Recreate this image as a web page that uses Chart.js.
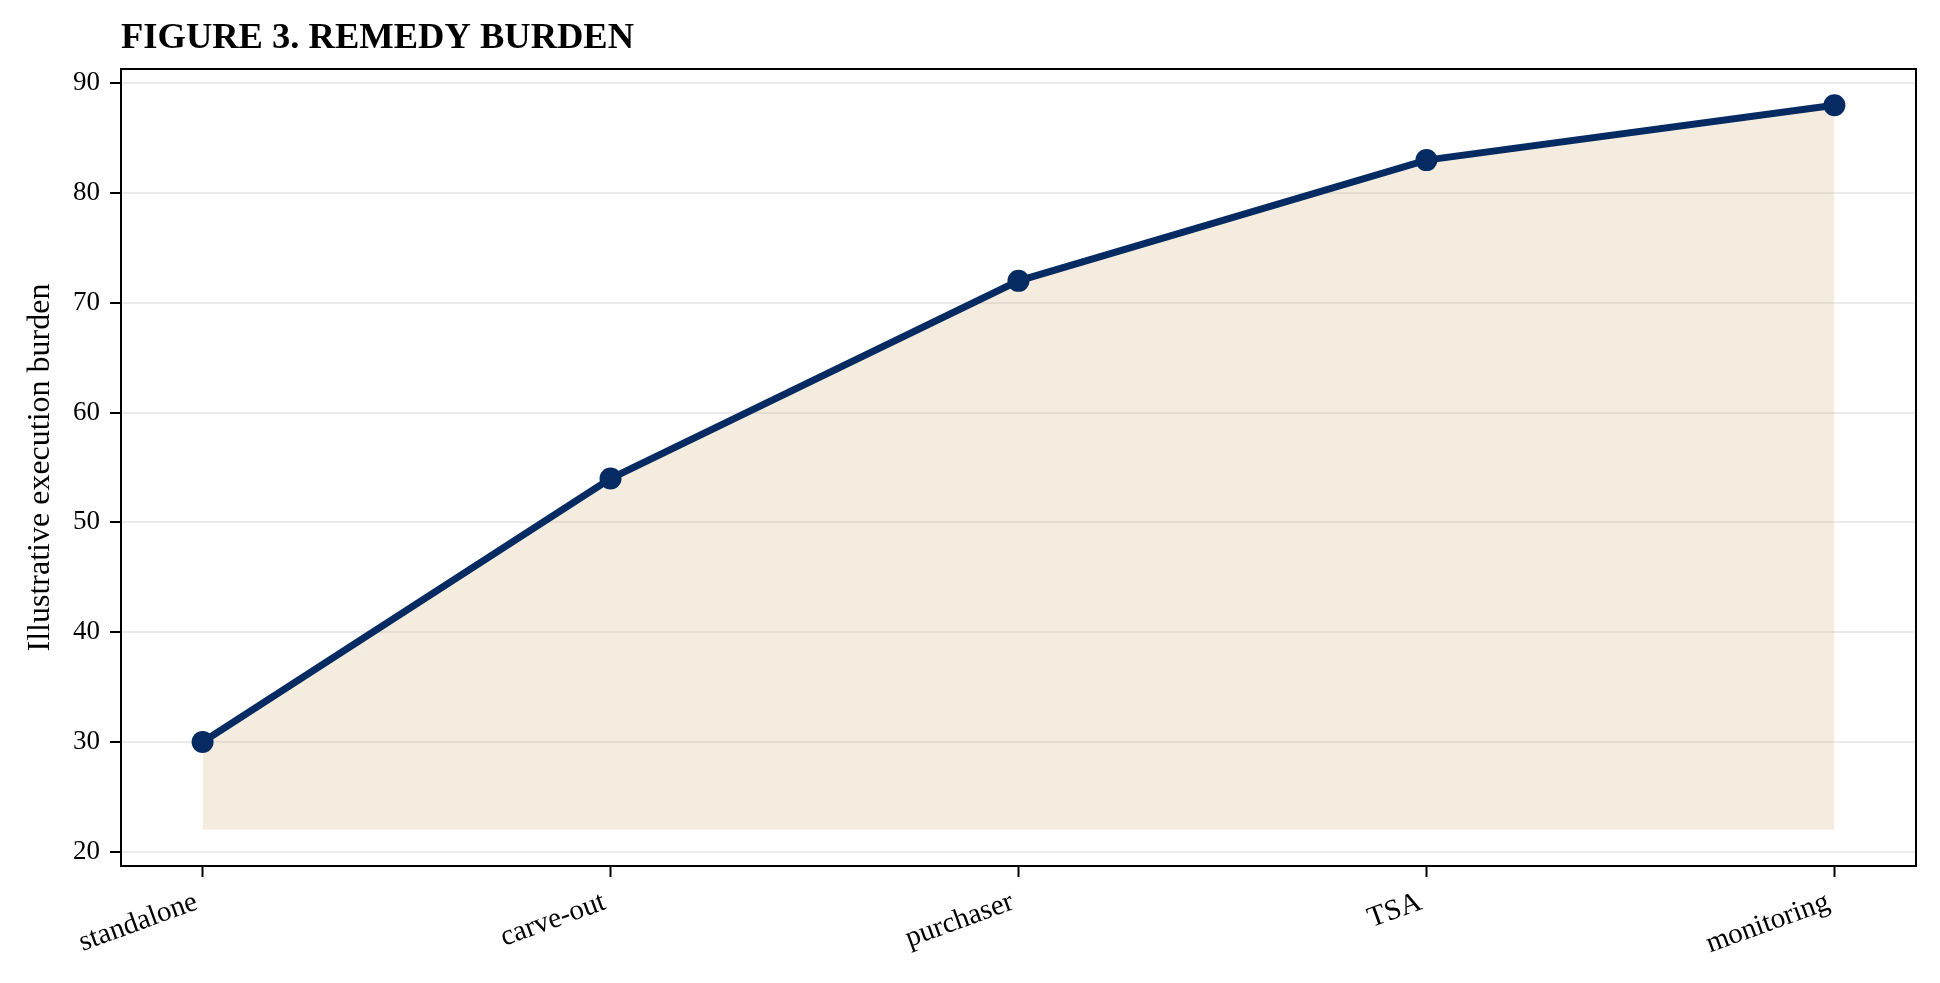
<!DOCTYPE html>
<html>
<head>
<meta charset="utf-8">
<title>Figure 3. Remedy burden</title>
<script src="https://cdn.jsdelivr.net/npm/chart.js@4.4.1/dist/chart.umd.min.js"></script>
<style>
  html, body { margin: 0; padding: 0; background: #ffffff; }
  #wrap { width: 1940px; height: 983px; position: relative; }
</style>
</head>
<body>
<div id="wrap"><canvas id="myChart"></canvas></div>
<script>
var categories = ["standalone", "carve-out", "purchaser", "TSA", "monitoring"];
var burden = [30, 54, 72, 83, 88];
var fillBase = 22;
var yTicks = [20, 30, 40, 50, 60, 70, 80, 90];
var titleText = "FIGURE 3. REMEDY BURDEN";
var yLabel = "Illustrative execution burden";

var navy = "#062b62";
var sand = "rgba(200, 165, 95, 0.2)";
var serif = "'Liberation Serif', 'Times New Roman', serif";

function toPoints(values) {

  var pts = [];

  for (var i = 0; i < values.length; i++) {
    pts.push({ x: i, y: values[i] });
  }

  return pts;
}

// title + closed frame round the plot area
var framePlugin = {
  id: "frame",
  afterDraw: function(chart) {
    var ctx = chart.ctx;
    var a = chart.chartArea;

    ctx.save();
    ctx.strokeStyle = "#000000";
    ctx.lineWidth = 2;
    ctx.strokeRect(a.left, a.top, a.right - a.left, a.bottom - a.top);

    ctx.fillStyle = "#000000";
    ctx.font = "bold 36.5px " + serif;
    ctx.textAlign = "left";
    ctx.textBaseline = "alphabetic";
    ctx.fillText(titleText, a.left, 48);
    ctx.restore();
  }
};

var ctx = document.getElementById("myChart");
var myChart = new Chart(ctx, {
  type: "line",
  data: {
    datasets: [
      {
        data: toPoints(burden),
        borderColor: navy,
        borderWidth: 7,
        pointRadius: 11,
        pointBackgroundColor: navy,
        pointBorderWidth: 0,
        tension: 0,
        fill: false,
        order: 0
      },
      {
        data: toPoints(burden),
        borderWidth: 0,
        pointRadius: 0,
        backgroundColor: sand,
        fill: { value: fillBase },
        order: 1
      }
    ]
  },
  options: {
    responsive: true,
    maintainAspectRatio: false,
    animation: false,
    layout: {
      padding: { top: 69, right: 24, bottom: 0, left: 0 }
    },
    plugins: {
      legend: { display: false },
      tooltip: { enabled: false },
      title: { display: false }
    },
    scales: {
      x: {
        type: "linear",
        min: -0.2,
        max: 4.2,
        afterBuildTicks: function(scale) {
          scale.ticks = categories.map(function(c, i) { return { value: i }; });
        },
        afterFit: function(scale) {
          scale.height = 117;
        },
        ticks: {
          minRotation: 20,
          maxRotation: 20,
          padding: 8,
          labelOffset: -6,
          color: "#000000",
          font: { family: serif, size: 29 },
          callback: function(value) {
            return categories[value];
          }
        },
        grid: {
          drawOnChartArea: false,
          tickLength: 11,
          tickWidth: 2,
          tickColor: "#000000"
        },
        border: { display: true, color: "#000000", width: 2 }
      },
      y: {
        min: 18.7,
        max: 91.3,
        afterBuildTicks: function(scale) {
          scale.ticks = yTicks.map(function(v) { return { value: v }; });
        },
        afterFit: function(scale) {
          scale.width = 121;
        },
        ticks: {
          padding: 10,
          color: "#000000",
          font: { family: serif, size: 27 }
        },
        grid: {
          color: "#ebebeb",
          lineWidth: 2,
          tickLength: 11,
          tickWidth: 2,
          tickColor: "#000000"
        },
        border: { display: true, color: "#000000", width: 2 },
        title: {
          display: true,
          text: yLabel,
          color: "#000000",
          font: { family: serif, size: 32 },
          padding: { top: 21, bottom: 0 }
        }
      }
    }
  },
  plugins: [framePlugin]
});
</script>
</body>
</html>
